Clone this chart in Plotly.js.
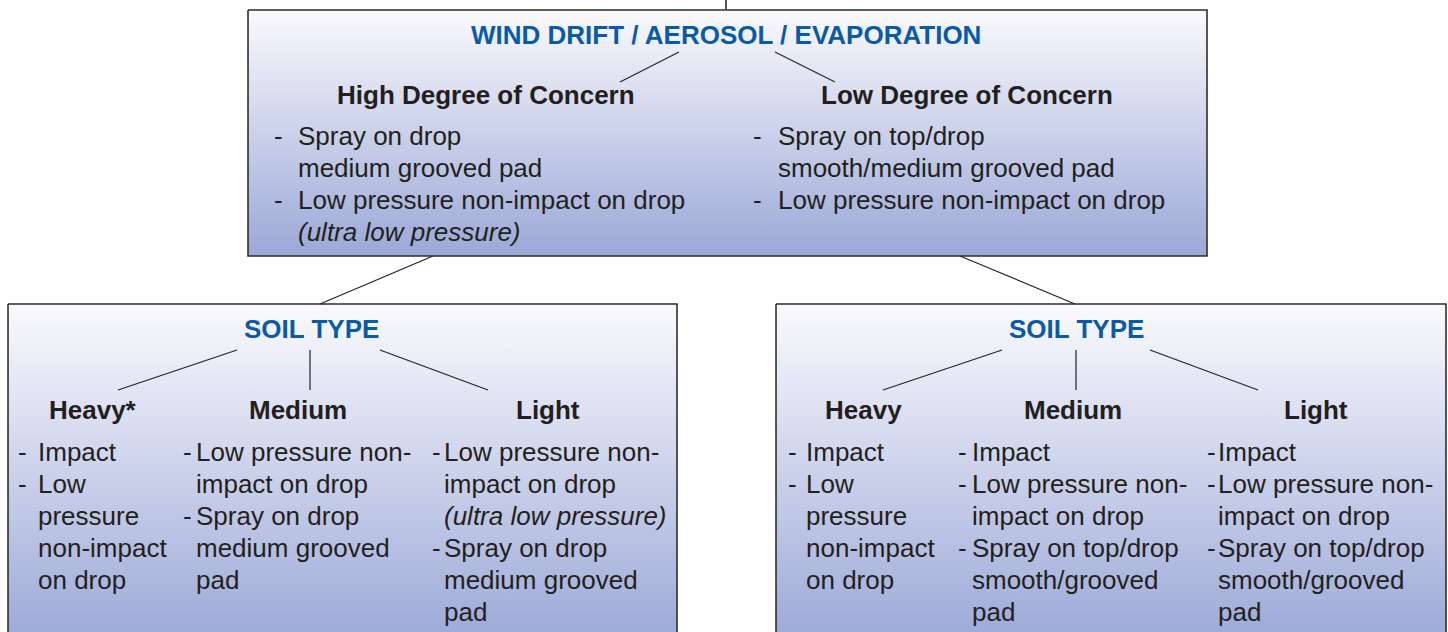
<!DOCTYPE html>
<html>
<head>
<meta charset="utf-8">
<script src="https://cdn.plot.ly/plotly-3.0.1.min.js"></script>
<style>
html,body{margin:0;padding:0;background:#fff;}
#chart{width:1448px;height:632px;}
</style>
</head>
<body>
<div id="chart"></div>
<script>
// ---------- DATA (texts of the diagram) ----------
const topTitle = 'WIND DRIFT / AEROSOL / EVAPORATION';
const concernLevels = ['High Degree of Concern', 'Low Degree of Concern'];
const highConcernItems = [
  ['Spray on drop', 'medium grooved pad'],
  ['Low pressure non-impact on drop', '<i>(ultra low pressure)</i>']
];
const lowConcernItems = [
  ['Spray on top/drop', 'smooth/medium grooved pad'],
  ['Low pressure non-impact on drop']
];
const soilTitle = 'SOIL TYPE';
const soilTypesHigh = ['Heavy*', 'Medium', 'Light'];
const soilTypesLow = ['Heavy', 'Medium', 'Light'];
const highHeavyItems = [['Impact'], ['Low', 'pressure', 'non-impact', 'on drop']];
const highMediumItems = [['Low pressure non-', 'impact on drop'], ['Spray on drop', 'medium grooved', 'pad']];
const highLightItems = [['Low pressure non-', 'impact on drop', '<i>(ultra low pressure)</i>'], ['Spray on drop', 'medium grooved', 'pad']];
const lowHeavyItems = [['Impact'], ['Low', 'pressure', 'non-impact', 'on drop']];
const lowMediumItems = [['Impact'], ['Low pressure non-', 'impact on drop'], ['Spray on top/drop', 'smooth/grooved', 'pad']];
const lowLightItems = [['Impact'], ['Low pressure non-', 'impact on drop'], ['Spray on top/drop', 'smooth/grooved', 'pad']];

// ---------- LAYOUT CONFIG (positions / styles) ----------
const FONT = 'Liberation Sans, Arial, Helvetica, sans-serif';
const BLUE = '#0b5aa6';
const TEXT = '#231f20';
const BORDER = '#2e2e2e';
const GRAD = [[0, '#fafafd'], [1, '#9ba8d7']];
const FS = 26;

const boxes = [
  {x0: 248, x1: 1207, y0: 10, y1: 256, gs: 10, ge: 256},
  {x0: 8, x1: 677, y0: 304, y1: 660, gs: 304, ge: 645},
  {x0: 776, x1: 1446, y0: 304, y1: 660, gs: 304, ge: 645}
];

const connectors = [
  [679, 52, 620, 82], [775, 52, 835, 82],
  [433, 256, 320, 304], [960, 256, 1075, 304],
  [237, 350, 118, 390], [310, 350, 310, 390], [380, 350, 488, 390],
  [1002, 350, 883, 390], [1076, 350, 1076, 390], [1150, 350, 1258, 390]
];

const traces = boxes.map(b => ({
  type: 'scatter', mode: 'lines',
  x: [b.x0, b.x1, b.x1, b.x0, b.x0],
  y: [b.y0, b.y0, b.y1, b.y1, b.y0],
  fill: 'toself',
  fillgradient: {type: 'vertical', colorscale: GRAD, start: b.gs, stop: b.ge},
  line: {color: BORDER, width: 1.6},
  hoverinfo: 'skip', showlegend: false
}));

const shapes = [
  {type: 'line', x0: 726, x1: 726, y0: 0, y1: 10, line: {color: '#555', width: 2}}
].concat(connectors.map(c => ({
  type: 'line', x0: c[0], y0: c[1], x1: c[2], y1: c[3],
  line: {color: '#222', width: 1.2}, layer: 'above'
})));

const annotations = [];
function txt(x, y, text, opts) {
  annotations.push(Object.assign({
    x: x, y: y, text: text, showarrow: false, xanchor: 'left', yanchor: 'middle',
    font: {family: FONT, size: FS, color: TEXT}
  }, opts || {}));
}
function header(x, y, text, color, size) {
  txt(x, y, '<b>' + text + '</b>', {xanchor: 'center', font: {family: FONT, size: size, color: color}});
}
function bulletList(items, dashX, textX, y0, dy, size) {
  let y = y0;
  items.forEach(item => {
    txt(dashX, y, '-', {font: {family: FONT, size: size, color: TEXT}});
    item.forEach(line => {
      txt(textX, y, line, {font: {family: FONT, size: size, color: TEXT}});
      y += dy;
    });
  });
}

// top box
header(726, 35, topTitle, BLUE, FS);
header(486, 95, concernLevels[0], TEXT, FS);
header(967, 95, concernLevels[1], TEXT, FS);
bulletList(highConcernItems, 272, 296, 136, 32, FS);
bulletList(lowConcernItems, 751, 776, 136, 32, FS);

// lower left box
header(311, 329, soilTitle, BLUE, FS);
[93, 298, 548].forEach((x, i) => header(x, 410, soilTypesHigh[i], TEXT, FS));
bulletList(highHeavyItems, 16, 36, 452, 32, FS);
bulletList(highMediumItems, 181, 194, 452, 32, FS);
bulletList(highLightItems, 430, 442, 452, 32, FS);

// lower right box
header(1076, 329, soilTitle, BLUE, FS);
[863, 1073, 1316].forEach((x, i) => header(x, 410, soilTypesLow[i], TEXT, FS));
bulletList(lowHeavyItems, 786, 804, 452, 32, FS);
bulletList(lowMediumItems, 956, 970, 452, 32, FS);
bulletList(lowLightItems, 1205, 1216, 452, 32, FS);

const layout = {
  width: 1448, height: 632,
  margin: {l: 0, r: 0, t: 0, b: 0},
  paper_bgcolor: '#ffffff', plot_bgcolor: '#ffffff',
  xaxis: {range: [0, 1448], visible: false, fixedrange: true},
  yaxis: {range: [632, 0], visible: false, fixedrange: true},
  shapes: shapes,
  annotations: annotations,
  showlegend: false
};

Plotly.newPlot('chart', traces, layout, {staticPlot: true, displayModeBar: false});
</script>
</body>
</html>
